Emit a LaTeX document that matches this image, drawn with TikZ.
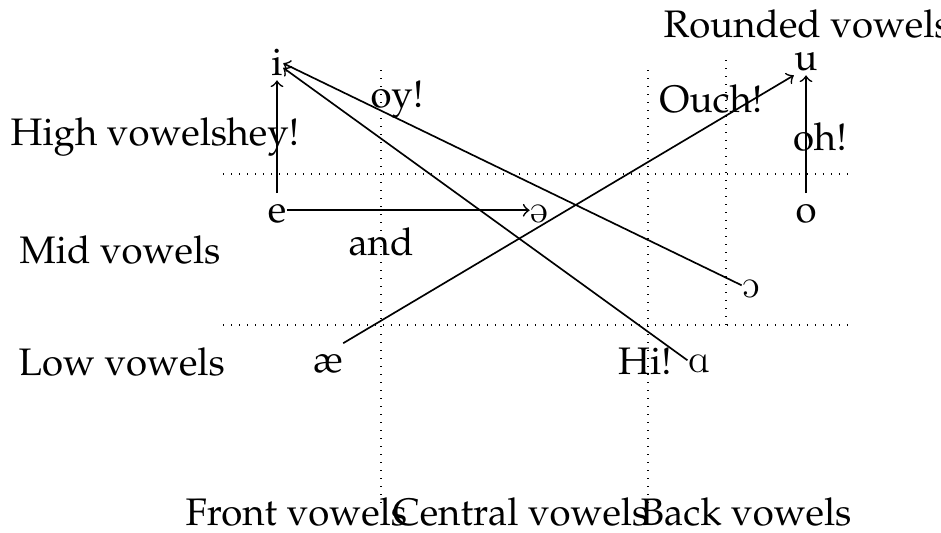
\documentclass[12pt,tikz,border=0pt]{standalone}
\usepackage[T1]{fontenc}
\usepackage{mathpazo}
\usepackage{tipa}
\begin{document}
\begin{tikzpicture}[x=0.3pt,y=-0.3pt,
  font=\fontsize{11.5}{13.8}\selectfont,
  v/.style={inner sep=0pt,text height=1.5ex,text depth=.25ex,anchor=base},
  lbl/.style={inner sep=0pt,anchor=base},
  gridline/.style={dotted},
  arr/.style={->,line width=0.5pt}]
\useasboundingbox (0,0) rectangle (941,532);
% dotted grid
\draw[gridline] (223,174) -- (850,174);
\draw[gridline] (223,325) -- (850,325);
\draw[gridline] (381,70) -- (381,508);
\draw[gridline] (648,70) -- (648,505);
\draw[gridline] (726,60) -- (726,325);
% vowels
\node[v] (i) at (277,75) {i};
\node[v] (e) at (277,222) {e};
\node[v] (schwa) at (539,222) {\textschwa};
\node[v] (o) at (806,222) {o};
\node[v] (u) at (806,70) {u};
\node[v] (ae) at (328,372) {\ae};
\node[v] (scripta) at (699,372) {\textscripta};
\node[v] (openo) at (751,297) {\textopeno};
% labels
\node[lbl, anchor=base west] (high) at (10,145) {High vowels};
\node[lbl, anchor=base west] (hey) at (226,145) {hey!};
\node[lbl] (oy) at (397,107) {oy!};
\node[lbl] (ouch) at (711,112) {Ouch!};
\node[lbl] (oh) at (820,150) {oh!};
\node[lbl] (and) at (381,255) {and};
\node[lbl] (hi) at (645,374) {Hi!};
\node[lbl, anchor=base west] (rounded) at (663,37) {Rounded vowels};
\node[lbl, anchor=base west] (mid) at (19,263) {Mid vowels};
\node[lbl, anchor=base west] (low) at (18,375) {Low vowels};
\node[lbl, anchor=base west] (front) at (185,525) {Front vowels};
\node[lbl, anchor=base west] (central) at (392,525) {Central vowels};
\node[lbl, anchor=base west] (back) at (640,525) {Back vowels};
% arrows
\draw[arr] (e) -- (i);
\draw[arr] (e) -- (schwa);
\draw[arr] (o) -- (u);
\draw[arr] (ae.north east) -- (u.south west);
\draw[arr] (openo.west) -- (i.east);
\draw[arr] (scripta.west) -- (i);
\end{tikzpicture}
\end{document}
